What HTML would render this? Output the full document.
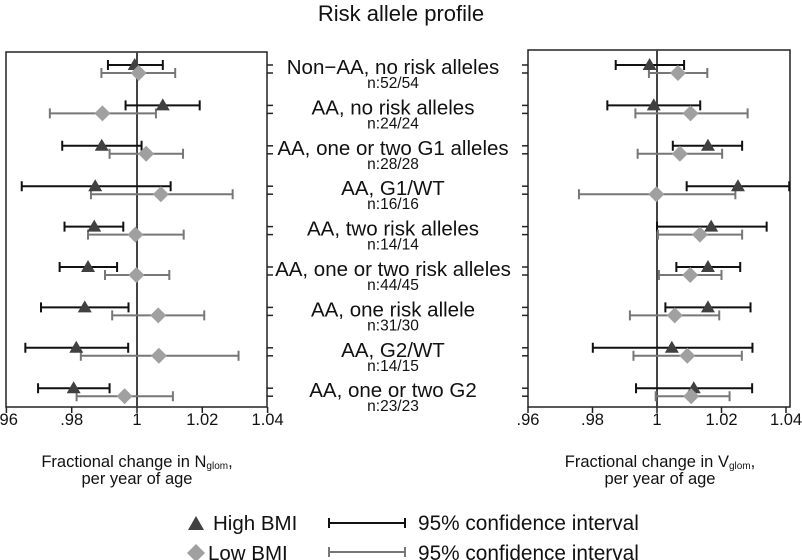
<!DOCTYPE html>
<html><head><meta charset="utf-8"><style>
body{margin:0;background:#fff}
svg{display:block;font-family:"Liberation Sans",Arial,sans-serif}
</style></head><body>
<svg id="chart" width="802" height="560" viewBox="0 0 802 560">
<rect width="802" height="560" fill="#fff"/>
<text x="401" y="21" font-size="22" text-anchor="middle" fill="#111">Risk allele profile</text>
<g id="left"></g><g id="right"></g><g id="labels"></g>
<text x="137" y="467" font-size="16.5" text-anchor="middle" fill="#111">Fractional change in N<tspan font-size="10" dy="2">glom</tspan><tspan dy="-2">,</tspan></text>
<text x="137" y="484" font-size="16.5" text-anchor="middle" fill="#111">per year of age</text>
<text x="660" y="467" font-size="16.5" text-anchor="middle" fill="#111">Fractional change in V<tspan font-size="10" dy="2">glom</tspan><tspan dy="-2">,</tspan></text>
<text x="660" y="484" font-size="16.5" text-anchor="middle" fill="#111">per year of age</text>
<g>
<path d="M196,516 L204,530 L188,530 Z" fill="#404040"/>
<text x="213" y="530" font-size="20.5" fill="#111">High BMI</text>
<path d="M196,544 L205,553 L196,562 L187,553 Z" fill="#a0a0a0"/>
<text x="208" y="560" font-size="20.5" fill="#111">Low BMI</text>
<path d="M329,523 H405 M329,518 V528 M405,518 V528" stroke="#111" stroke-width="2"/>
<text x="418" y="530" font-size="20.8" fill="#111">95% confidence interval</text>
<path d="M329,552 H405 M329,547 V557 M405,547 V557" stroke="#777" stroke-width="2"/>
<text x="418" y="560" font-size="20.8" fill="#111">95% confidence interval</text>
</g>
</svg>
<script>
const categories=["Non\u2212AA, no risk alleles","AA, no risk alleles","AA, one or two G1 alleles","AA, G1/WT","AA, two risk alleles","AA, one or two risk alleles","AA, one risk allele","AA, G2/WT","AA, one or two G2"];
const sampleLabels=["n:52/54","n:24/24","n:28/28","n:16/16","n:14/14","n:44/45","n:31/30","n:14/15","n:23/23"];
const tickValues=[0.96,0.98,1,1.02,1.04];
const tickLabels=[".96",".98","1","1.02","1.04"];
// Nglom
const nHighEst=[0.9993,1.0079,0.9892,0.9872,0.9869,0.9850,0.9840,0.9814,0.9806];
const nHighLo=[0.9911,0.9965,0.9771,0.9647,0.9778,0.9763,0.9706,0.9658,0.9697];
const nHighHi=[1.0079,1.0192,1.0014,1.0103,0.9958,0.9939,0.9974,0.9973,0.9916];
const nLowEst=[1.0005,0.9894,1.0028,1.0073,0.9995,0.9998,1.0065,1.0067,0.9962];
const nLowLo=[0.9891,0.9733,0.9916,0.9859,0.9850,0.9902,0.9924,0.9828,0.9815];
const nLowHi=[1.0117,1.0058,1.0141,1.0293,1.0143,1.0099,1.0206,1.0311,1.0110];
// Vglom
const vHighEst=[0.9977,0.9990,1.0158,1.0251,1.0168,1.0158,1.0158,1.0046,1.0114];
const vHighLo=[0.9872,0.9846,1.0049,1.0092,1.0000,1.0060,1.0026,0.9801,0.9935];
const vHighHi=[1.0084,1.0134,1.0264,1.0410,1.0340,1.0258,1.0290,1.0296,1.0295];
const vLowEst=[1.0065,1.0104,1.0071,0.9998,1.0133,1.0103,1.0055,1.0094,1.0106];
const vLowLo=[0.9975,0.9933,0.9940,0.9758,1.0003,1.0006,0.9916,0.9927,0.9996];
const vLowHi=[1.0156,1.0281,1.0202,1.0243,1.0264,1.0200,1.0193,1.0263,1.0225];

const NS="http://www.w3.org/2000/svg";
function mk(parent,tag,attrs){const e=document.createElementNS(NS,tag);for(const k in attrs)e.setAttribute(k,attrs[k]);parent.appendChild(e);return e;}
function rowY(i){return 65+i*40.4;}

function panel(gid,x0,x1,top,bottom,xScale,tickSide,hE,hL,hH,lE,lL,lH,prefix){
  const g=document.getElementById(gid);
  const box=mk(g,'rect',{x:x0,y:top,width:x1-x0,height:bottom-top,fill:'none',stroke:'#222','stroke-width':1.5});
  
  
  const ref=mk(g,'line',{x1:xScale(1),x2:xScale(1),y1:top,y2:bottom,stroke:'#444','stroke-width':2});
  
  
  tickValues.forEach((v,i)=>{
    const x=xScale(v);
    const t=mk(g,'line',{x1:x,x2:x,y1:bottom,y2:bottom+6,stroke:'#222','stroke-width':1.5});
    
    
    const l=mk(g,'text',{x:x,y:bottom+18,'font-size':16.5,'text-anchor':'middle',fill:'#111'});
    l.textContent=tickLabels[i];
    
    
  });
  categories.forEach((c,i)=>{
    const y=rowY(i);
    [y,y+8].forEach(yy=>{
      const tx=tickSide==='right'?x1:x0;
      const tk=mk(g,'line',{x1:tx,x2:tickSide==='right'?tx+6:tx-6,y1:yy,y2:yy,stroke:'#222','stroke-width':1.5});
      
      
    });
    const a=xScale(hL[i]),b=xScale(hH[i]);
    const ch=mk(g,'path',{d:`M${a},${y} H${b} M${a},${y-5} V${y+5} M${b},${y-5} V${y+5}`,stroke:'#111','stroke-width':2,fill:'none'});
    
    
    const yl=y+8;
    const a2=xScale(lL[i]),b2=xScale(lH[i]);
    const cl=mk(g,'path',{d:`M${a2},${yl} H${b2} M${a2},${yl-5} V${yl+5} M${b2},${yl-5} V${yl+5}`,stroke:'#777','stroke-width':2,fill:'none'});
    
    
    const xe=xScale(hE[i]);
    const tri=mk(g,'path',{d:`M${xe},${y-7} L${xe+7},${y+5} L${xe-7},${y+5} Z`,fill:'#404040'});
    
    
    const xd=xScale(lE[i]);
    const dia=mk(g,'path',{d:`M${xd},${yl-8} L${xd+8},${yl} L${xd},${yl+8} L${xd-8},${yl} Z`,fill:'#a0a0a0'});
    
    
  });
}
const xLeft=v=>137+(v-1)*3265;
const xRight=v=>657+(v-1)*3225;
panel('left',6,267,52,407,xLeft,'right',nHighEst,nHighLo,nHighHi,nLowEst,nLowLo,nLowHi,'nglom');
panel('right',528,790,50,407,xRight,'left',vHighEst,vHighLo,vHighHi,vLowEst,vLowLo,vLowHi,'vglom');

const lg=document.getElementById('labels');
categories.forEach((c,i)=>{
  const y=rowY(i);
  const t=mk(lg,'text',{x:393,y:y+9,'font-size':20.5,'text-anchor':'middle',fill:'#111'});
  t.textContent=c;
  
  
  const n=mk(lg,'text',{x:393,y:y+23,'font-size':15.5,'text-anchor':'middle',fill:'#111'});
  n.textContent=sampleLabels[i];
  
  
});
</script>
</body></html>
